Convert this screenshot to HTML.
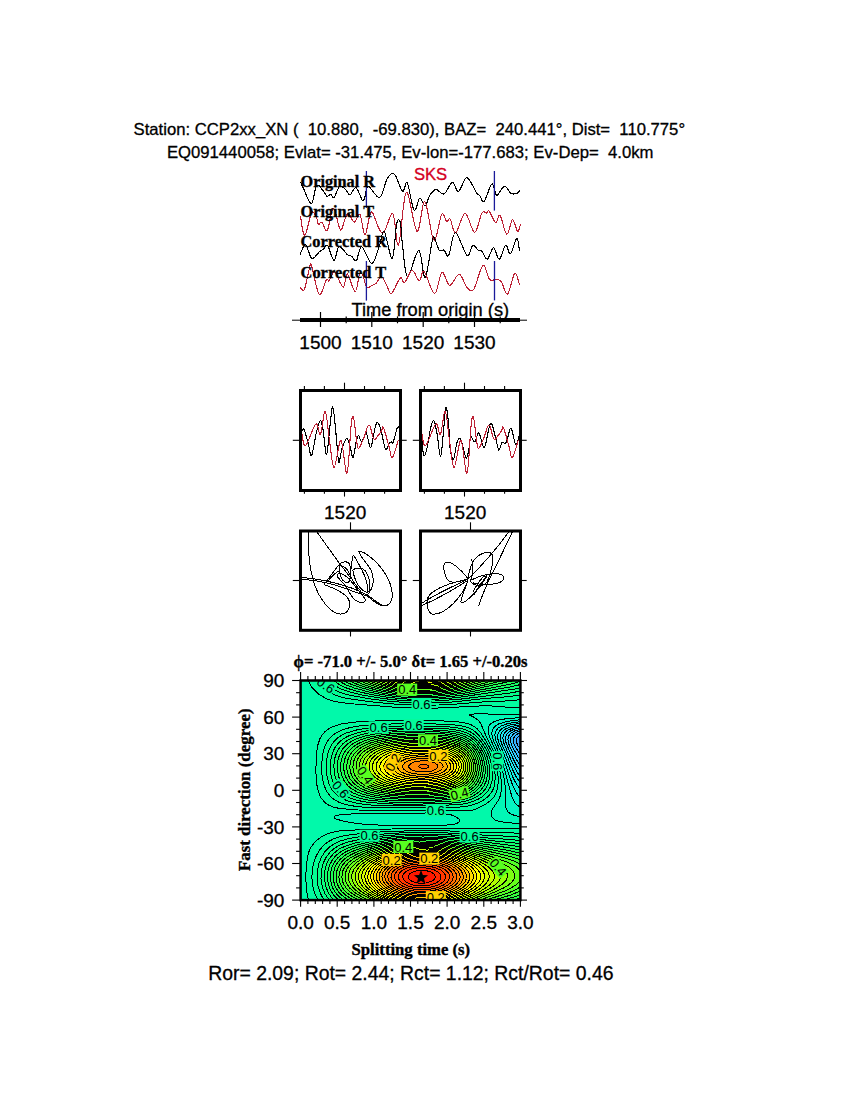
<!DOCTYPE html>
<html><head><meta charset="utf-8"><title>SKS splitting</title>
<style>html,body{margin:0;padding:0;background:#fff;}svg{display:block;}</style></head>
<body><svg width="850" height="1100" viewBox="0 0 850 1100">
<rect width="850" height="1100" fill="#fff"/>
<text x="133.6" y="134.8" style="font-family:&quot;Liberation Sans&quot;,sans-serif;font-size:16.68px;white-space:pre" text-anchor="start" fill="#000"  stroke="#000" stroke-width="0.3">Station: CCP2xx_XN (  10.880,  -69.830), BAZ=  240.441°, Dist=  110.775°</text>
<text x="166.9" y="157.8" style="font-family:&quot;Liberation Sans&quot;,sans-serif;font-size:16.7px;white-space:pre" text-anchor="start" fill="#000"  stroke="#000" stroke-width="0.3">EQ091440058; Evlat= -31.475, Ev-lon=-177.683; Ev-Dep=  4.0km</text>
<g fill="none" stroke-width="1.1" stroke-linejoin="round" shape-rendering="crispEdges">
<path d="M300.5 182C300.9 182.9 301.3 183.9 303.1 187.5C304.9 191.1 309 203.8 311.3 203.5C313.6 203.2 314.7 187.6 316.7 185.5C318.7 183.4 321.5 189.1 323.2 190.9C324.9 192.7 325.8 195.8 327 196.4C328.2 197 329.5 194.1 330.7 194.3C331.9 194.5 332.6 198.7 334.1 197.4C335.6 196.1 337.7 187.8 339.6 186.5C341.5 185.2 344 188.1 345.7 189.5C347.4 190.9 348.1 195.3 349.8 195C351.5 194.7 353.9 186.7 356 187.6C358.1 188.5 360.9 198.9 362.4 200.3C363.9 201.7 364.2 198.3 365.2 196C366.2 193.7 365.9 185.9 368.3 186.2C370.7 186.4 376.4 198.8 379.6 197.5C382.8 196.2 384.9 182.3 387.4 178.4C389.9 174.5 392 172 394.5 174.2C397 176.3 400.4 189.9 402.5 191.3C404.6 192.7 405.4 179.7 407.3 182.8C409.2 186 411.9 207.6 414 210.2C416.1 212.8 418 198.9 419.8 198.2C421.6 197.5 423.4 206.5 425 206C426.6 205.5 428.3 197.8 429.7 195.3C431.1 192.8 432 192 433.2 191.1C434.4 190.2 435 189.2 436.8 189.7C438.6 190.2 441.6 195.1 444.2 193.9C446.8 192.7 449.9 182.7 452.3 182.3C454.7 181.9 456.1 192.2 458.3 191.5C460.6 190.8 463.7 179.6 465.8 178.1C467.9 176.6 469.1 179.9 470.9 182.5C472.7 185.1 475.3 191.2 476.8 193.4C478.3 195.6 478.5 194.2 479.7 195.6C480.9 196.9 482.2 203.4 484.1 201.5C486.1 199.6 489.6 186.2 491.4 184.3C493.1 182.4 493.6 188 494.6 189.8C495.6 191.6 495.6 195.9 497.2 195.3C498.8 194.7 502.2 186.5 504.5 186.2C506.8 185.9 509 192.2 511.1 193.4C513.2 194.6 515.5 193.9 516.9 193.4C518.3 192.9 519.3 191 519.8 190.5" stroke="#000"/>
<path d="M300.4 216.1C301.1 219.3 302.9 235.8 304.8 235.2C306.7 234.6 309.7 215.6 311.6 212.7C313.5 209.8 315.3 215.6 316.4 217.5C317.5 219.4 317.5 223.5 318.4 224.3C319.3 225.1 320.4 221.3 321.9 222.3C323.4 223.3 325.4 232.8 327.3 230.4C329.2 228 331.2 208.1 333.4 208C335.6 207.9 338.3 228.1 340.3 229.8C342.3 231.6 343.8 221.2 345.2 218.5C346.6 215.8 347 212.9 348.5 213.5C350 214.1 352.3 222 354.2 222.2C356.1 222.3 358.1 212.3 359.9 214.4C361.7 216.5 363.2 234.4 364.8 234.9C366.4 235.4 368.1 220.8 369.4 217.2C370.7 213.5 370.4 210.3 372.6 213C374.8 215.7 379.1 233.4 382.5 233.5C385.9 233.6 390 211.8 392.7 213.7C395.4 215.6 396.2 248.6 398.5 245C400.8 241.4 403.2 194.7 406.3 192.4C409.4 190.1 413.9 229.8 417 231.3C420.1 232.9 422 200.2 424.8 201.7C427.6 203.1 431 237.9 433.8 240C436.6 242.1 439.6 217.5 441.7 214.4C443.8 211.3 445.2 220.7 446.6 221.5C448 222.3 448.7 217.4 450.2 219.3C451.7 221.2 453.3 233.7 455.8 232.7C458.3 231.7 462 213.1 465.1 213.1C468.2 213.1 471.8 232.5 474.6 232.5C477.4 232.5 479.9 216.3 481.9 213.1C483.8 209.9 485.1 213.4 486.3 213.1C487.5 212.8 487.6 209.7 489.2 211.3C490.8 212.9 493.9 221.9 495.7 222.6C497.5 223.3 498.3 213.4 500.1 215.3C501.9 217.2 504.6 233.6 506.7 234.3C508.8 235 510.7 220.2 512.5 219.7C514.3 219.2 516.3 230.7 517.6 231.4C518.9 232.1 520 225.3 520.5 224.1" stroke="#bc2034"/>
<path d="M300.1 254.5C301 252.8 303.6 243.9 305.5 244.5C307.4 245.1 309.5 257.1 311.8 258.3C314.1 259.6 317.3 253.5 319.2 252C321.1 250.5 322 250.3 323.4 249.2C324.8 248.1 325.8 243.7 327.6 245.6C329.4 247.5 332.2 260.3 334 260.5C335.8 260.7 336.9 248.7 338.5 247C340.1 245.3 342.4 249.3 343.9 250.6C345.4 251.9 346.1 253.9 347.4 254.8C348.7 255.7 350.1 255.2 351.6 256.2C353.1 257.2 354.7 262.2 356.4 260.6C358.1 259 359 246.3 361.6 246.8C364.2 247.3 368.9 263.5 371.8 263.5C374.7 263.5 377 252.1 379.1 246.8C381.2 241.5 382 229.6 384.2 231.5C386.4 233.4 390.1 259.9 392.2 258.5C394.3 257.1 395.4 229.1 396.8 223.1C398.2 217.1 399.5 219.6 400.4 222.6C401.3 225.6 400.9 231.9 402.1 240.9C403.3 249.9 404.6 274.7 407.4 276.3C410.2 277.9 415.7 250.1 418.7 250.3C421.7 250.5 422.9 279.1 425.2 277.5C427.4 275.9 430.6 247.4 432.2 240.9C433.8 234.4 433.4 236.9 434.6 238.5C435.8 240.1 437.8 248.4 439.3 250.3C440.9 252.2 442.3 249.2 443.9 250.1C445.5 250.9 446.8 258.3 448.7 255.4C450.6 252.5 452.3 232.7 455.4 232.7C458.4 232.7 464.1 253.3 467 255.4C469.9 257.5 470.9 246.1 472.8 245.3C474.7 244.5 477.2 249.7 478.6 250.6C480.1 251.5 480.1 249.2 481.5 250.6C482.9 252 485.3 259.7 487.3 259.2C489.3 258.7 491.5 247.7 493.5 247.7C495.5 247.7 497.3 259.6 499.3 259.2C501.3 258.8 503.8 246.2 505.6 245.3C507.5 244.4 508.5 255 510.4 253.9C512.2 252.8 515.2 239 516.7 238.5C518.2 238 519.1 248.9 519.6 251" stroke="#000"/>
<path d="M300.1 287.3C300.8 287.6 302.9 292.5 304.4 289.4C305.9 286.3 308.1 272.9 309.3 268.9C310.5 264.9 309.8 261.2 311.4 265.4C313 269.6 316.7 291.8 319.2 294.3C321.7 296.8 324.6 282.4 326.2 280.2C327.8 278 328.2 281.6 329 281C329.8 280.4 330.2 278.2 331.2 276.7C332.2 275.2 333 270.2 335 272C337 273.8 341.1 287 343.2 287.3C345.3 287.6 345.4 273.1 347.4 273.9C349.4 274.7 353.1 291.8 355.1 291.9C357.1 292 358.2 277.2 359.5 274.5C360.8 271.8 361.9 273.7 363.1 275.9C364.3 278.1 365.2 285.9 366.7 287.5C368.1 289.1 370.2 286.1 371.8 285.4C373.4 284.7 374.6 284.7 376.2 283.2C377.8 281.7 379.6 276.4 381.3 276.6C383 276.8 384.7 281.8 386.4 284.6C388.1 287.4 389.2 294.5 391.5 293.4C393.8 292.3 398 279.9 400.2 278.1C402.4 276.3 402.5 283.8 404.5 282.5C406.5 281.2 409.7 270.6 412.2 270.4C414.7 270.1 417.3 280.8 419.3 281C421.3 281.2 421.4 269.5 424 271.6C426.6 273.7 431.6 293.3 434.6 293.4C437.6 293.5 439.4 273.6 441.9 272.3C444.4 271 446.7 285 449.6 285.3C452.5 285.6 456.4 273.8 459.3 274.2C462.2 274.6 464.6 285.2 467 287.7C469.4 290.2 471.2 292.9 473.8 289.2C476.4 285.5 480.3 267.2 482.9 265.5C485.5 263.8 487.3 276.6 489.2 279C491.1 281.4 492.1 279.7 494 280C495.9 280.3 498.6 278.7 500.8 281C503.1 283.3 505.2 295.3 507.5 294C509.8 292.7 512.8 274.6 514.8 273.2C516.8 271.8 518.8 283.3 519.6 285.3" stroke="#bc2034"/>
</g>
<g stroke="#1a1a9a" stroke-width="1.3">
<line x1="366.4" y1="171" x2="366.4" y2="208"/><line x1="494.4" y1="171" x2="494.4" y2="210.6"/>
<line x1="366.4" y1="261" x2="366.4" y2="300.6"/><line x1="494.5" y1="261" x2="494.5" y2="300.4"/>
</g>
<g fill="none" stroke-width="1.1" stroke-linejoin="round" shape-rendering="crispEdges">
<path d="M301.7 431.6C302.1 431.2 303 427.6 304.1 429.5C305.2 431.4 306.9 438.9 308.2 443.2C309.4 447.5 310.2 457.2 311.6 455.4C313 453.6 314.9 438.1 316.4 432.3C317.9 426.5 319.3 420.5 320.4 420.3C321.5 420.1 322.2 425.1 323.2 430.9C324.2 436.6 325.5 455.7 326.6 454.8C327.7 453.9 329 433.6 330 425.5C331 417.4 331.8 406.1 332.7 406.4C333.6 406.7 334.7 421.4 335.4 427.5C336.1 433.6 336.2 437.4 336.8 443.2C337.4 449 338 461.6 338.9 462.3C339.8 463 340.9 451.3 342.3 447.3C343.7 443.3 345.6 438.1 347 438.4C348.4 438.7 349.7 446.1 350.7 449.3C351.7 452.5 352.2 458.8 353.1 457.5C354 456.2 355.3 445.4 356.2 441.8C357.1 438.2 357.7 435.7 358.6 435.7C359.5 435.7 360.4 442.1 361.6 441.8C362.8 441.5 364.8 434.7 365.7 433.6C366.6 432.5 366.2 432.7 367.1 435C368 437.3 369.4 448.7 370.8 447.3C372.2 445.9 374.1 430.9 375.3 426.8C376.5 422.7 377 421.9 378 422.7C379 423.5 380.1 427.2 381.4 431.6C382.6 436 384.2 447.2 385.5 449.3C386.8 451.4 387.9 445.1 388.9 443.9C389.9 442.6 390.9 441.9 391.6 441.8C392.3 441.7 392.1 445.5 393 443.2C393.9 440.9 396.1 430.8 397.1 428.2C398.1 425.6 398.8 427.6 399.1 427.5" stroke="#000"/>
<path d="M301.7 432.3C302.3 434.6 303.2 447.3 305.5 445.9C307.8 444.5 313.2 426 315.7 424.1C318.2 422.2 318.8 436.5 320.4 434.3C322 432.1 323.7 410.3 325.2 411.1C326.7 411.9 327.8 429.7 329.3 439.1C330.8 448.5 332.2 467.5 334.1 467.7C336 467.9 338.8 439.5 340.9 440.4C343 441.3 345.3 475.7 347 473.2C348.7 470.7 350 434.8 351.1 425.5C352.2 416.2 352.5 414.4 353.5 417.3C354.5 420.2 355.9 438.1 356.9 443.2C357.8 448.3 357.9 449 359.2 447.9C360.4 446.8 362.8 440.2 364.4 436.4C366 432.5 367.5 424.4 369.1 424.8C370.7 425.2 372.4 437.3 373.9 439.1C375.4 440.9 376.7 436.9 378 435.5C379.3 434.1 380.6 432.3 381.5 431C382.4 429.7 382.2 425 383.4 427.5C384.6 430 387.4 440.9 388.9 445.9C390.4 450.9 390.7 458.5 392.3 457.5C393.9 456.5 397.4 442.8 398.4 439.8" stroke="#bc2034"/>
<path d="M421.7 433.6C421.9 436.8 422.6 449.1 423.1 452.7C423.6 456.3 424.1 456.5 424.8 455.4C425.5 454.3 426.5 450.7 427.5 445.9C428.5 441.1 429.8 431 430.9 426.8C432 422.6 433 419.6 434 420.7C435 421.8 435.9 427.6 437 433.6C438.1 439.6 439.5 456.7 440.5 456.8C441.5 456.9 442.3 442.5 443.2 434.3C444.1 426.1 445 409.4 445.9 407.7C446.8 406 447.9 417.5 448.6 424.1C449.3 430.7 449.2 441.4 450 447.3C450.8 453.2 452.3 460.2 453.4 459.5C454.5 458.8 455.7 446.7 456.8 443.2C457.9 439.7 459.1 437.4 460.2 438.4C461.3 439.4 462.6 446 463.6 449.3C464.6 452.6 465.5 458.4 466.4 458.2C467.3 458 468.4 451.5 469.1 447.9C469.8 444.3 469.8 437.4 470.7 436.4C471.6 435.4 473.4 442.4 474.8 441.8C476.2 441.2 477.3 432 478.9 432.9C480.5 433.8 482.5 448.9 484.4 447.3C486.3 445.7 488.7 425.2 490.5 423.4C492.3 421.6 493.9 432 495.3 436.4C496.7 440.8 497.6 449 498.7 450C499.8 451 500.9 443.8 502.1 442.5C503.4 441.2 504.7 444.9 506.2 442.5C507.7 440.1 509.3 427.9 510.9 428.2C512.5 428.5 514.3 443.1 515.7 444.5C517.1 445.9 518.5 437.8 519.1 436.4" stroke="#000"/>
<path d="M421.7 432.3C422.3 434.6 423.2 447.3 425.5 445.9C427.8 444.5 433.2 426 435.7 424.1C438.2 422.2 438.8 436.5 440.4 434.3C442 432.1 443.7 410.3 445.2 411.1C446.7 411.9 447.8 429.7 449.3 439.1C450.8 448.5 452.2 467.5 454.1 467.7C456 467.9 458.8 439.5 460.9 440.4C463 441.3 465.3 475.7 467 473.2C468.7 470.7 470 434.8 471.1 425.5C472.2 416.2 472.5 414.4 473.5 417.3C474.5 420.2 475.9 438.1 476.9 443.2C477.8 448.3 477.9 449 479.2 447.9C480.4 446.8 482.8 440.2 484.4 436.4C486 432.5 487.5 424.4 489.1 424.8C490.7 425.2 492.4 437.3 493.9 439.1C495.4 440.9 496.7 436.9 498 435.5C499.3 434.1 500.6 432.3 501.5 431C502.4 429.7 502.2 425 503.4 427.5C504.6 430 507.4 440.9 508.9 445.9C510.4 450.9 510.7 458.5 512.3 457.5C513.9 456.5 517.4 442.8 518.4 439.8" stroke="#bc2034"/>
</g>
<text x="300.5" y="187.1" style="font-family:&quot;Liberation Serif&quot;,serif;font-weight:bold;font-size:16.3px;white-space:pre" text-anchor="start" fill="#000" textLength="74.6" lengthAdjust="spacingAndGlyphs" stroke="#000" stroke-width="0.35">Original R</text>
<text x="300.5" y="217.25" style="font-family:&quot;Liberation Serif&quot;,serif;font-weight:bold;font-size:16.3px;white-space:pre" text-anchor="start" fill="#000" textLength="73.5" lengthAdjust="spacingAndGlyphs" stroke="#000" stroke-width="0.35">Original T</text>
<text x="300.5" y="247.39999999999998" style="font-family:&quot;Liberation Serif&quot;,serif;font-weight:bold;font-size:16.3px;white-space:pre" text-anchor="start" fill="#000" textLength="86.4" lengthAdjust="spacingAndGlyphs" stroke="#000" stroke-width="0.35">Corrected R</text>
<text x="300.5" y="277.54999999999995" style="font-family:&quot;Liberation Serif&quot;,serif;font-weight:bold;font-size:16.3px;white-space:pre" text-anchor="start" fill="#000" textLength="85.8" lengthAdjust="spacingAndGlyphs" stroke="#000" stroke-width="0.35">Corrected T</text>
<text x="413.9" y="179.8" style="font-family:&quot;Liberation Sans&quot;,sans-serif;font-size:16.6px;white-space:pre" text-anchor="start" fill="#d4001e" stroke="#d4001e" stroke-width="0.35">SKS</text>
<text x="351.4" y="316.4" style="font-family:&quot;Liberation Sans&quot;,sans-serif;font-size:18.3px;white-space:pre" text-anchor="start" fill="#000"  stroke="#000" stroke-width="0.3">Time from origin (s)</text>
<line x1="292" y1="320.2" x2="527" y2="320.2" stroke="#000" stroke-width="1"/>
<rect x="300" y="318" width="220" height="4" fill="#000"/>
<line x1="320.5" y1="312" x2="320.5" y2="327" stroke="#000" stroke-width="1.2"/>
<text x="320.5" y="348.5" style="font-family:&quot;Liberation Sans&quot;,sans-serif;font-size:19px;white-space:pre" text-anchor="middle" fill="#000"  stroke="#000" stroke-width="0.3">1500</text>
<line x1="346.2" y1="316.4" x2="346.2" y2="323.3" stroke="#000" stroke-width="1.2"/>
<line x1="371.8" y1="312" x2="371.8" y2="327" stroke="#000" stroke-width="1.2"/>
<text x="371.8" y="348.5" style="font-family:&quot;Liberation Sans&quot;,sans-serif;font-size:19px;white-space:pre" text-anchor="middle" fill="#000"  stroke="#000" stroke-width="0.3">1510</text>
<line x1="397.5" y1="316.4" x2="397.5" y2="323.3" stroke="#000" stroke-width="1.2"/>
<line x1="423.2" y1="312" x2="423.2" y2="327" stroke="#000" stroke-width="1.2"/>
<text x="423.2" y="348.5" style="font-family:&quot;Liberation Sans&quot;,sans-serif;font-size:19px;white-space:pre" text-anchor="middle" fill="#000"  stroke="#000" stroke-width="0.3">1520</text>
<line x1="448.8" y1="316.4" x2="448.8" y2="323.3" stroke="#000" stroke-width="1.2"/>
<line x1="474.5" y1="312" x2="474.5" y2="327" stroke="#000" stroke-width="1.2"/>
<text x="474.5" y="348.5" style="font-family:&quot;Liberation Sans&quot;,sans-serif;font-size:19px;white-space:pre" text-anchor="middle" fill="#000"  stroke="#000" stroke-width="0.3">1530</text>
<line x1="500.2" y1="316.4" x2="500.2" y2="323.3" stroke="#000" stroke-width="1.2"/>
<rect x="300.5" y="390.5" width="100" height="100" fill="none" stroke="#000" stroke-width="3"/>
<line x1="304.4" y1="386" x2="304.4" y2="390" stroke="#000" stroke-width="1.1"/>
<line x1="304.4" y1="491" x2="304.4" y2="493.8" stroke="#000" stroke-width="1.1"/>
<line x1="324.4" y1="386" x2="324.4" y2="390" stroke="#000" stroke-width="1.1"/>
<line x1="324.4" y1="491" x2="324.4" y2="493.8" stroke="#000" stroke-width="1.1"/>
<line x1="344.5" y1="382.7" x2="344.5" y2="390" stroke="#000" stroke-width="1.1"/>
<line x1="344.5" y1="491" x2="344.5" y2="496.6" stroke="#000" stroke-width="1.1"/>
<line x1="364.5" y1="386" x2="364.5" y2="390" stroke="#000" stroke-width="1.1"/>
<line x1="364.5" y1="491" x2="364.5" y2="493.8" stroke="#000" stroke-width="1.1"/>
<line x1="384.6" y1="386" x2="384.6" y2="390" stroke="#000" stroke-width="1.1"/>
<line x1="384.6" y1="491" x2="384.6" y2="493.8" stroke="#000" stroke-width="1.1"/>
<line x1="292.8" y1="440.3" x2="300.5" y2="440.3" stroke="#000" stroke-width="1.1"/>
<line x1="400.5" y1="440.3" x2="406.7" y2="440.3" stroke="#000" stroke-width="1.1"/>
<text x="345.2" y="518.8" style="font-family:&quot;Liberation Sans&quot;,sans-serif;font-size:19px;white-space:pre" text-anchor="middle" fill="#000"  stroke="#000" stroke-width="0.3">1520</text>
<rect x="420.5" y="390.5" width="100" height="100" fill="none" stroke="#000" stroke-width="3"/>
<line x1="424.4" y1="386" x2="424.4" y2="390" stroke="#000" stroke-width="1.1"/>
<line x1="424.4" y1="491" x2="424.4" y2="493.8" stroke="#000" stroke-width="1.1"/>
<line x1="444.4" y1="386" x2="444.4" y2="390" stroke="#000" stroke-width="1.1"/>
<line x1="444.4" y1="491" x2="444.4" y2="493.8" stroke="#000" stroke-width="1.1"/>
<line x1="464.5" y1="382.7" x2="464.5" y2="390" stroke="#000" stroke-width="1.1"/>
<line x1="464.5" y1="491" x2="464.5" y2="496.6" stroke="#000" stroke-width="1.1"/>
<line x1="484.5" y1="386" x2="484.5" y2="390" stroke="#000" stroke-width="1.1"/>
<line x1="484.5" y1="491" x2="484.5" y2="493.8" stroke="#000" stroke-width="1.1"/>
<line x1="504.6" y1="386" x2="504.6" y2="390" stroke="#000" stroke-width="1.1"/>
<line x1="504.6" y1="491" x2="504.6" y2="493.8" stroke="#000" stroke-width="1.1"/>
<line x1="412.8" y1="440.3" x2="420.5" y2="440.3" stroke="#000" stroke-width="1.1"/>
<line x1="520.5" y1="440.3" x2="526.7" y2="440.3" stroke="#000" stroke-width="1.1"/>
<text x="465.2" y="518.8" style="font-family:&quot;Liberation Sans&quot;,sans-serif;font-size:19px;white-space:pre" text-anchor="middle" fill="#000"  stroke="#000" stroke-width="0.3">1520</text>
<rect x="300.5" y="531" width="100" height="99.3" fill="none" stroke="#000" stroke-width="3"/>
<line x1="350.5" y1="522.3" x2="350.5" y2="530" stroke="#000" stroke-width="1.1"/>
<line x1="350.5" y1="631" x2="350.5" y2="636.5" stroke="#000" stroke-width="1.1"/>
<line x1="292.8" y1="580.5" x2="300.5" y2="580.5" stroke="#000" stroke-width="1.1"/>
<line x1="400.5" y1="580.5" x2="406.7" y2="580.5" stroke="#000" stroke-width="1.1"/>
<rect x="420.5" y="531" width="100" height="99.3" fill="none" stroke="#000" stroke-width="3"/>
<line x1="470.5" y1="522.3" x2="470.5" y2="530" stroke="#000" stroke-width="1.1"/>
<line x1="470.5" y1="631" x2="470.5" y2="636.5" stroke="#000" stroke-width="1.1"/>
<line x1="412.8" y1="580.5" x2="420.5" y2="580.5" stroke="#000" stroke-width="1.1"/>
<line x1="520.5" y1="580.5" x2="526.7" y2="580.5" stroke="#000" stroke-width="1.1"/>
<g fill="none" stroke="#000" stroke-width="1" shape-rendering="crispEdges">
<path d="M308.4 531.8C307.4 548.0 309.6 569.6 314.4 584.0C319.2 598.4 330.0 612.8 339.6 614.0C348.0 614.6 351.0 606.8 349.2 600.8C346.8 593.6 336.0 588.8 324.0 584.6"/>
<path d="M301.8 577.4C318.0 578.6 336.0 582.8 350.4 587.6C360.0 591.2 367.2 594.8 372.0 598.4C376.8 602.0 381.6 605.0 384.0 606.2"/>
<path d="M301.8 579.2C318.0 580.4 336.0 584.6 348.0 589.4C357.6 593.0 364.8 595.4 368.4 596.0"/>
<path d="M316.8 531.8C324.0 542.0 333.6 555.2 339.6 563.6C344.4 569.6 348.0 574.4 351.6 579.2"/>
<path d="M358.8 551.0C364.8 551.6 378.0 561.2 386.4 575.6C392.4 586.4 394.8 599.6 388.8 604.4C385.2 606.8 381.6 606.2 376.8 603.2C372.0 600.2 368.4 597.2 366.6 594.8"/>
<path d="M358.8 551.0C358.8 555.2 367.2 563.6 370.8 569.6C374.4 576.8 373.8 585.2 370.8 590.0C369.0 593.0 367.2 594.8 366.6 594.8"/>
<path d="M339.6 564.2C342.0 561.2 348.0 560.6 349.8 564.8C351.6 569.6 350.4 578.0 349.2 581.6C346.8 584.0 343.2 581.6 341.4 578.0C339.6 574.4 339.0 568.4 339.6 564.2"/>
<path d="M324.0 584.6C328.8 578.0 334.8 569.6 339.6 564.2"/>
<path d="M353.4 554.6C351.6 561.2 350.4 569.6 351.0 579.2"/>
<path d="M353.4 554.6C356.4 560.0 362.4 569.6 365.4 578.0C367.2 584.0 368.4 588.8 367.8 592.4"/>
<path d="M352.8 569.6C356.4 567.8 362.4 567.2 365.4 570.8C369.0 575.6 370.8 584.0 369.6 590.0C368.4 593.6 364.8 592.4 361.2 588.8C357.6 585.2 354.0 578.0 352.8 569.6"/>
<path d="M337.8 574.4C338.4 572.6 343.2 573.2 348.0 578.0C352.8 582.8 360.0 592.4 364.8 598.4C367.2 602.0 362.4 603.2 358.8 602.0C354.0 600.8 350.4 594.8 348.0 590.0C345.6 585.2 340.8 580.4 337.8 577.4C337.2 576.2 337.4 575.0 337.8 574.4"/>
<path d="M340.8 566.0C344.4 566.0 348.0 569.6 350.4 575.6C352.8 581.6 356.4 586.4 361.2 591.2"/>
<path d="M327.6 581.6C331.2 576.8 336.0 572.0 339.6 570.8"/>
<path d="M508.8 531.8C501.6 542.0 487.2 560.0 468.0 579.2"/>
<path d="M512.4 531.8C506.4 544.4 494.4 569.6 487.2 584.0C483.6 592.4 480.0 600.8 478.8 605.6"/>
<path d="M468.0 579.2C456.0 581.6 438.0 586.4 429.6 594.8C424.8 600.8 427.2 611.6 432.0 614.0C439.2 615.2 446.4 610.4 453.6 603.2C459.6 597.2 465.6 587.6 468.0 580.4"/>
<path d="M421.8 603.2C434.4 594.8 450.0 587.6 468.0 579.2"/>
<path d="M421.8 605.6C435.6 599.6 451.2 591.2 466.8 581.0"/>
<path d="M468.0 578.6C460.8 569.6 452.4 561.8 446.4 562.2C442.2 562.6 443.4 572.0 446.4 578.0C449.4 584.0 456.0 582.8 468.0 579.2"/>
<path d="M468.0 578.0C470.4 566.0 472.8 558.8 480.0 554.6C486.0 551.6 492.0 551.0 492.6 556.4C493.2 563.6 490.8 573.2 487.2 581.6C484.8 586.4 476.4 587.6 470.4 581.6"/>
<path d="M470.4 580.4C480.0 575.6 489.6 573.2 498.0 573.8C504.0 574.4 505.2 579.2 501.6 581.6C494.4 585.2 482.4 585.2 472.8 582.8"/>
<path d="M468.0 580.4C465.6 587.6 460.8 598.4 460.8 602.0C461.4 604.4 465.6 602.0 472.8 594.8C477.6 590.0 482.4 584.0 487.2 575.6"/>
<path d="M474.0 594.8C477.6 587.6 483.6 580.4 487.2 574.4"/>
<path d="M472.8 592.4C476.4 585.2 480.0 579.2 484.8 575.6"/>
<path d="M471.6 558.8C474.0 566.0 472.8 575.6 470.4 580.4"/>
</g>
<clipPath id="cp"><rect x="300.6" y="680.5" width="219.8" height="219.6"/></clipPath>
<g clip-path="url(#cp)"><rect x="300.6" y="680.5" width="219.8" height="219.6" fill="#3e96ff"/>
<path id="c90" d="M520.6 900L520.6 680.5L300.6 680.5L300.6 900L520.6 900Z" fill="#3e96ff" fill-rule="evenodd"/>
<path id="c88" d="M520.6 900L520.6 743.4L520.2 741L520.6 739.3L520.6 680.5L300.6 680.5L300.6 900L520.6 900Z" fill="#3ba3ff" fill-rule="evenodd"/>
<path id="c86" d="M520.6 900L520.6 749.6L517.4 745L516.3 741L516.6 739L517.4 737.5L518.9 736L520.6 734.9L520.6 680.5L300.6 680.5L300.6 900L520.6 900Z" fill="#38b0ff" fill-rule="evenodd"/>
<path id="c84" d="M520.6 900L520.6 755L514.8 746L513.6 743L513.2 740.5L513.6 738L515.1 735.7L517.4 734L520.6 732.6L520.6 680.5L300.6 680.5L300.6 900L520.6 900Z" fill="#35bdff" fill-rule="evenodd"/>
<path id="c82" d="M520.6 900L520.6 760.6L518.1 756.9L512.5 747L510.9 743L510.5 740L511.1 737L513.1 734.2L516.1 732.3L520.6 730.8L520.6 680.5L300.6 680.5L300.6 900L520.6 900Z" fill="#32caff" fill-rule="evenodd"/>
<path id="c80" d="M520.6 900L520.6 766.1L516.6 760L510 747L508.4 743L507.9 739.5L508.6 736L511.1 733L515.1 730.7L520.6 729.2L520.6 680.5L300.6 680.5L300.6 900L520.6 900Z" fill="#2cd4fb" fill-rule="evenodd"/>
<path id="c78" d="M520.6 900L520.6 771.5L517.1 766.6L513.6 759.8L506.6 744.5L505.7 741.5L505.4 739L505.5 737L506.3 735L509.1 731.8L513.6 729.4L520.6 727.7L520.6 680.5L300.6 680.5L300.6 900L520.6 900Z" fill="#24dcf3" fill-rule="evenodd"/>
<path id="c76" d="M520.6 900L520.6 777.1L517.1 772.3L513.1 764.6L504.3 744.5L503.2 741L502.9 738L503.1 736L503.9 734L505.4 732L507.2 730.5L513.1 727.8L520.6 726.2L520.6 680.5L300.6 680.5L300.6 900L520.6 900Z" fill="#1ce4ec" fill-rule="evenodd"/>
<path id="c74" d="M520.6 900L520.6 782.9L516.8 778L513.1 770.8L506.1 753.5L501.8 744L500.7 740.5L500.3 737.5L500.6 735L501.6 732.8L503.1 730.9L505.6 729L512.1 726.3L520.6 724.8L520.6 680.5L300.6 680.5L300.6 900L520.6 900Z" fill="#14ece4" fill-rule="evenodd"/>
<path id="c72" d="M520.6 900L520.6 789.4L516.6 784.5L513 777.5L504 754L498.9 742.5L498 739.5L497.7 736.5L498 734L499.1 731.5L500.8 729.5L503.6 727.6L506.6 726.2L511.1 724.8L520.6 723.2L520.6 680.5L300.6 680.5L300.6 900L520.6 900Z" fill="#0ef1da" fill-rule="evenodd"/>
<path id="c70" d="M520.6 900L520.6 797.3L518.6 795.5L516.6 793L512.7 785.5L502.8 756.5L496 741L495.2 738L494.9 735L495.3 732.5L496.4 730L498.2 728L501.1 726.1L505.1 724.4L509.1 723.3L520.6 721.6L520.6 680.5L300.6 680.5L300.6 900L520.6 900Z" fill="#0af3ce" fill-rule="evenodd"/>
<path id="c68" d="M520.6 900L520.6 807.1L518.1 805.8L516 804L514.1 801.5L512.6 798.4L510.6 792.2L502.6 762.5L499.3 753.5L493.2 740L492.2 736.5L491.8 733.5L492.2 730.5L493.4 728L495.6 725.8L498.6 724L506.6 721.5L513.1 720.5L520.6 719.8L520.6 680.5L300.6 680.5L300.6 900L520.6 900Z" fill="#06f5c2" fill-rule="evenodd"/>
<path id="c66" d="M520.6 900L520.6 816.6L515.1 815.6L511 814L508.1 811.9L506.3 809L505.6 805.5L505.9 795.5L505.5 788.5L504.5 780.5L502.8 772L500.4 763L497.7 755L489.5 737L488.4 733L488.1 730L488.6 727L490 724.5L492.1 722.7L495.1 721.2L498.6 720.1L505.6 718.8L520.6 717.5L520.6 680.5L300.6 680.5L300.6 900L520.6 900Z" fill="#02f7b6" fill-rule="evenodd"/>
<path id="c64" d="M520.6 900L520.6 823.7L507.6 822.7L499.2 821.5L494.6 819.7L493.1 818.5L492.1 816.9L491.1 813.5L491.5 810.5L498.6 800L500.2 796L501.1 792L501.6 787L501.4 781.5L499.5 768.5L497.3 760.5L494.6 753L486.1 736L480.6 723.3L479.1 721.1L477.6 719.8L474.1 717.3L469.4 715L470.1 714.6L476.6 713.5L501.6 714.6L520.6 714.2L520.6 680.5L300.6 680.5L300.6 900L520.6 900ZM436.1 825.5L390.6 825.5L365.7 824.5L354.1 823.1L342.6 820.9L336 819L334.2 818L333.9 817L335.3 816L339.4 815L352.6 813.9L433.6 812.9L443.6 813.5L451.6 815L457.1 817.5L458.8 819L459.7 820.5L459.6 821.5L458.8 822.5L454.8 824L447.3 825L436.1 825.5Z" fill="#01f9aa" fill-rule="evenodd"/>
<path id="c62" d="M438.2 708L483.6 705.8L491.6 706L510.6 707.4L516.6 707.5L520.6 707.1L520.6 680.5L308.5 680.5L310.1 684.4L312 687.5L318.4 694L326.1 698.6L335.1 701.6L348.1 703.5L392.1 707L414.6 708L438.2 708ZM468 811L473.1 810.1L478.6 807.9L486.1 803.8L491.1 800L494.1 796.6L496.1 792.9L497.5 788.5L498.2 783L498 775.5L496.8 767.5L494.7 759.5L491.9 752L487.1 742.9L480.6 732.6L476.6 728.2L472.1 725.2L466.6 723.3L460.1 722.1L444.1 721L391.6 720.7L370.6 721.1L355.6 722L342.1 723.8L332.6 726.7L328.1 729.2L325.1 731.5L321.8 735.5L320 738.5L317.5 746L316.2 756L315.9 772L316.8 784.5L318.3 791.5L320.8 797.5L324.6 802.3L329.3 805.5L334.1 807.3L339.8 808.5L358.1 810L385.6 810.5L436.1 809.9L468 811ZM520.6 900L520.6 829L500.1 828.4L410.1 828.5L351.1 830.1L339.6 830.9L333.1 832.1L327.6 833.8L322.6 836.1L318.1 839.2L314.1 843.1L310.9 847.5L309 851.5L307.5 857L306.1 867.5L305.9 880L306.7 891.5L308.5 900L520.6 900Z" fill="#03fb9f" fill-rule="evenodd"/>
<path id="c60" d="M439.3 705L457.1 704L484.1 701.8L510.6 700.8L520.6 699.6L520.6 680.5L317.8 680.5L320.2 684L322.8 687L325.6 689.7L328.6 691.8L335.6 695.3L340.6 697L346.6 698.3L370.6 701.8L393.6 704L415.1 705.1L439.3 705ZM398.6 808L453.1 807.4L464.1 806.8L471.1 805.4L477.6 803.2L483.1 800.4L487.7 797L491.8 792L493.3 789L494.4 785.5L495.3 778L494.6 769L492.6 760L489.5 751.5L484.6 742.9L478.6 734.9L474.6 731.2L470.6 728.7L465.1 726.7L458.6 725.3L442.6 724.1L406.1 723.6L377.1 724.4L364.1 725.4L355.6 726.5L348.1 728.1L341.6 730.2L335.6 733.2L331.9 736L327.5 741L324.6 747L322.7 754.5L321.7 764L322 774.5L323.5 783.5L326.1 790.5L330 796L334 799.5L338.6 802.1L344.1 804.2L350.6 805.6L359.1 806.8L370.1 807.5L398.6 808ZM520.6 900L520.6 833.4L509.1 832.7L483.6 832.2L447.1 830.9L415.1 830.6L381.1 831.9L359.1 833.8L346.6 835.3L339.1 836.9L333.1 839.1L327.8 842L323.5 845.5L319.6 850L316.4 855.5L313.9 862L312.5 868.5L311.9 877L312.5 885L314.4 892.5L317.8 900L520.6 900Z" fill="#05fc94" fill-rule="evenodd"/>
<path id="c58" d="M430.4 703L443.6 702.6L457.1 701.6L484.1 698.6L510.1 696.5L520.6 694.9L520.6 680.5L324 680.5L328.1 685.2L334.1 689.6L341.1 692.8L350.1 695.3L370.6 699L391.6 701.5L413.1 702.9L430.4 703ZM437.7 805.5L458.6 804.6L465.6 803.6L472.1 801.8L478.1 799.3L483.3 796L487.3 792L490 787.5L492 781L492.5 773.5L491.7 765.5L489.5 757L486.2 749.5L481.4 742L476.1 736L471.1 732.3L466.1 730L460.1 728.3L452.6 727.2L444.1 726.5L406.6 725.9L391.1 726.3L376.1 727.1L364.6 728.5L357.6 729.7L346.6 732.9L341.6 735.3L337.6 738L333.9 741.5L331.1 745.5L328.3 752L326.7 759.5L326.3 768.5L327.2 777.5L329 784L332.1 789.9L336.1 794.4L341.1 798L346.6 800.5L353.6 802.6L361.6 804L371.1 805L396.1 806L437.7 805.5ZM520.6 900L520.6 837.2L510.1 836.3L484.6 835.2L451.6 833.1L422.6 832.4L404.6 832.7L388.1 833.6L372.1 835.1L356.1 837.3L347.1 839L340.1 841.1L334.1 843.9L329.1 847.4L325.1 851.5L321.5 857L319.1 863L317.5 870L317 878L318 886L320.4 893.5L324 900L520.6 900Z" fill="#07fe8a" fill-rule="evenodd"/>
<path id="c56" d="M435 701L459.1 699.3L509.1 693.1L519.6 691.3L520.6 691.1L520.6 680.5L329.2 680.5L334.6 685.4L341.6 689.3L349.6 692L364.1 695.4L383.6 698.6L399.1 700.2L415.6 701.1L435 701ZM423.3 804L450.6 803.1L458.6 802.4L465.1 801.2L471.6 799.2L477.1 796.6L481.6 793.3L485.1 789.5L488.1 784L489.7 777.5L489.9 770L488.7 762L486.4 754.5L482.7 747.5L478.1 741.3L472.6 736.2L468.1 733.5L463.6 731.7L457.6 730.2L449.1 729L435.6 728.2L415.1 727.9L398.6 728.1L383.6 728.8L371.6 730.1L364.1 731.3L356.6 733L351.1 734.9L346.6 736.9L341.7 740L338.4 743L335.3 747L332.6 752.5L330.8 759.5L330.2 767.5L330.9 775L332.5 781L335.2 786.5L338.8 791L343.6 794.8L348.6 797.5L354.6 799.6L362.1 801.4L370.6 802.6L392.6 804L423.3 804ZM520.6 900L520.6 840.7L519.6 840.5L510.1 839.5L486.1 837.9L455.6 835.2L431.6 834.1L414.6 834.1L398.6 834.7L384.1 835.9L370.1 837.7L357.1 839.9L347.6 842.2L340.6 844.7L335.1 847.8L330.1 852L325.9 857.5L323.1 863.5L321.4 870.5L321 878.5L322.2 886.5L325.1 894L329.2 900L520.6 900Z" fill="#0bff7e" fill-rule="evenodd"/>
<path id="c54" d="M424 699.5L442.1 698.9L457.1 697.6L515.6 688.9L520.6 687.7L520.6 680.5L333.9 680.5L339.6 684.7L346.6 688.1L355.6 690.9L369.1 694.1L383.1 696.6L393.6 697.9L408.1 699.1L424 699.5ZM413.9 802.5L443.6 801.8L459.6 800.2L466.1 798.7L471.6 796.6L476.3 794L480.1 790.9L483.6 786.5L486.2 781L487.5 774.5L487.5 767.5L486.1 760L483.5 753L480.1 747L475.6 741.6L471.1 737.8L466.1 735L459.6 732.8L452.6 731.4L443.1 730.5L429.1 729.8L413.6 729.6L398.1 729.9L376.6 731.6L368.6 732.9L360.1 734.9L353.8 737L347.8 740L343.1 743.6L339.6 747.4L336.7 752.5L334.7 758.5L333.9 765L334.2 772L335.5 778L337.9 783.5L341.1 788L345.1 791.6L349.6 794.4L355.1 796.8L361.6 798.7L369.1 800.2L388.1 802L413.9 802.5ZM520.6 900L520.6 843.9L516.1 843.1L457.6 837.2L435.1 835.8L419.6 835.6L404.6 836L390.6 837L377.6 838.6L364.6 840.9L353.1 843.5L345.1 846.2L339.1 849.1L333.6 853.4L329.4 858.5L326.4 864.5L324.7 871.5L324.5 879.5L326.1 887.5L329.1 894L331.6 897.5L333.9 900L520.6 900Z" fill="#11ff70" fill-rule="evenodd"/>
<path id="c52" d="M439.5 697.5L451.1 696.6L464.1 694.8L511.6 686.7L520.6 684.5L520.6 680.5L338.7 680.5L342.1 682.8L346.1 684.9L354.6 688.1L369.1 692L383.1 694.8L398.1 696.8L412.6 697.8L427.6 698L439.5 697.5ZM435.6 800.5L454.6 799.1L461.6 797.8L467.1 796.1L472.1 793.8L476.6 790.7L480.1 787L482.6 783L484.7 777L485.4 770.5L484.8 763.5L482.9 756.5L480.1 750.5L476.1 745L471.6 740.7L466.1 737.2L460.1 734.9L453.6 733.4L445.1 732.4L435.6 731.7L421.1 731.3L405.6 731.4L391.6 732L379.1 733.3L364.6 736.1L358.1 738.2L353.9 740L349.6 742.5L345.8 745.5L342.7 749L340.3 753L338.3 758.5L337.3 764.5L337.5 771L338.8 777L341 782L344.1 786.2L348.3 790L353.3 793L359.1 795.4L365.6 797.3L373.6 798.8L382.6 799.9L405.6 800.9L435.6 800.5ZM520.6 900L520.6 847L512.1 845.5L459.6 839L438.1 837.3L423.6 837L409.1 837.2L395.1 838.1L382.6 839.6L370.1 841.8L357.6 844.8L348.6 847.7L342.1 850.8L336.6 854.8L332.5 859.5L329.4 865.5L327.8 872L327.4 876L327.6 880L329.4 887.5L331.1 891.2L333.2 894.5L335.6 897.3L338.7 900L520.6 900Z" fill="#17ff64" fill-rule="evenodd"/>
<path id="c50" d="M428.6 696.5L445.6 695.6L465.6 692.9L510.6 684.1L520.6 681.4L520.6 680.5L343.6 680.5L349.6 683.7L357.6 686.7L370.1 690.3L383.1 693.2L393.6 694.8L405.6 695.9L416.1 696.4L428.6 696.5ZM435.5 799L453.6 797.5L460.1 796.3L465.6 794.6L470.6 792.2L474.6 789.4L478.1 785.7L480.6 781.6L482.5 776L483.3 770L482.8 763.5L481.1 757L478.5 751.5L474.6 746.1L470.1 742L465.1 738.9L459.6 736.7L453.1 735.1L445.1 734L435.6 733.3L421.6 732.9L407.6 732.9L393.6 733.6L383.6 734.6L368.6 737.3L362.1 739.2L356.8 741.5L352.5 744L348.6 747.1L345.6 750.5L343.2 754.5L341.4 759.5L340.5 765.5L340.8 771L342.1 776.5L344.3 781L347.6 785.4L351.6 788.8L356.6 791.7L362.3 794L369.1 795.9L376.6 797.3L385.6 798.4L408.1 799.5L435.5 799ZM520.6 900L520.6 850.1L509.6 847.9L467.1 841.6L454.1 840L442.1 838.9L429.6 838.4L417.1 838.3L404.6 838.8L393.1 839.8L382.1 841.3L371.6 843.3L361.6 845.9L353.1 848.6L346.6 851.4L341.6 854.5L337.6 858L334.2 862.5L331.8 867.5L330.6 872.5L330.4 876.5L330.6 880.5L331.5 884.5L333 888.5L335 892L337.5 895L340.1 897.5L343.6 900L520.6 900Z" fill="#1dff56" fill-rule="evenodd"/>
<path id="c48" d="M432.6 695L449.1 693.7L464.1 691.5L513.8 680.5L348.7 680.5L355.6 683.7L364.6 686.8L376.1 690L386.1 692.1L397.6 693.8L408.1 694.7L420.6 695.2L432.6 695ZM421.8 798L443.1 797.1L457.1 795.2L462.6 793.7L467.1 791.8L471.1 789.4L474.4 786.5L477.6 782.4L479.8 777.5L481.1 772L481.2 766.5L480.2 760.5L478.2 755L475.3 750L471.6 745.7L467.1 742.1L462.6 739.7L457.1 737.8L449.6 736.2L438.6 735.1L427.1 734.5L413.1 734.4L398.1 734.9L386.6 735.9L378.6 737.1L370.6 738.8L364.1 740.9L358.4 743.5L354.1 746.2L350.1 749.7L347.1 753.8L345 758.5L343.8 763.5L343.7 768.5L344.5 773.5L346.2 778L348.7 782L352.1 785.6L356.6 788.8L361.6 791.3L367.1 793.2L373.6 794.9L381.1 796.2L399.1 797.8L421.8 798ZM513.8 900L520.6 897.8L520.6 853.3L509 850.5L462.6 842.6L440.1 840.1L428.6 839.6L416.6 839.6L405.1 840.1L394.1 841.1L383.6 842.6L374.1 844.5L364.8 847L356.1 849.9L349.6 852.7L344.6 855.6L340.5 859L337.1 863.2L334.7 868L333.4 873L333.2 877L333.6 881L334.7 885L336.3 888.5L338.6 892L341.1 894.7L344.6 897.5L348.7 900L513.8 900Z" fill="#27ff4a" fill-rule="evenodd"/>
<path id="c46" d="M436.4 693.5L450.1 692.2L464.1 689.9L503.3 680.5L353.9 680.5L362.3 684L371.6 687.1L382.6 689.9L391.6 691.6L401.6 692.8L413.6 693.7L423.6 693.9L436.4 693.5ZM426.6 796.5L445.6 795.3L458.1 793.2L463.1 791.6L467.3 789.5L470.8 787L473.8 784L476.5 780L478.4 775L479.2 770L479 764.5L477.8 759L475.6 753.9L472.6 749.4L468.7 745.5L464.1 742.4L458.6 740L452.1 738.3L444.6 737.2L434.6 736.3L420.1 735.8L406.6 736L394.1 736.7L385.1 737.8L377.1 739.2L370.1 741.1L364.1 743.3L358.9 746L355.1 748.8L352 752L349.3 756L347.6 760.5L346.8 765L347 770L348.1 774.7L350.1 778.8L352.9 782.5L356.6 785.7L361.1 788.5L366.1 790.7L372.1 792.6L379.1 794.1L386.6 795.2L404.6 796.5L426.6 796.5ZM503.3 900L514.6 896.8L520.6 894.5L520.6 856.6L515.1 854.8L507.9 853L461.6 843.9L440.1 841.4L418.1 840.8L407.1 841.3L396.6 842.2L386.6 843.6L377.6 845.4L368.6 847.8L360.1 850.6L353.1 853.6L347.6 856.7L343.4 860L339.9 864L337.6 868.5L336.3 873L336 877L336.5 881L337.7 885L339.6 888.6L342.2 892L345.6 895L349.2 897.5L353.9 900L503.3 900Z" fill="#35ff3e" fill-rule="evenodd"/>
<path id="c44" d="M430.9 692.5L444.6 691.5L459.1 689.3L472.6 686.3L493.8 680.5L359.1 680.5L367.7 684L375.6 686.6L391.6 690.2L401.1 691.5L412.1 692.4L430.9 692.5ZM430.2 795L446.6 793.7L458.1 791.5L462.6 789.8L466.6 787.7L470.1 785L472.8 782L475.2 778L476.8 773L477.4 768L476.9 763L475.5 758L473.3 753.5L470.3 749.5L466.4 746L462.1 743.4L456.6 741.1L450.1 739.5L442.1 738.4L429.6 737.5L416.1 737.2L405.1 737.5L393.6 738.3L385.1 739.4L377.6 741L371.1 742.8L365.7 745L361.1 747.5L357.2 750.5L354.1 753.9L351.9 757.5L350.5 761.5L349.8 766L350.1 770.5L351.5 775L353.4 778.5L356.3 782L360 785L364.6 787.7L369.6 789.8L375.6 791.5L390.1 794.1L408.6 795.2L430.2 795ZM493.8 900L510.6 895.1L520.6 890.9L520.6 860.2L514.6 857.8L506.6 855.5L474.3 848L461.1 845.3L440.6 842.7L419.6 842L399.1 843.2L389.6 844.4L381.1 846.1L372.6 848.3L364.1 851.2L356.4 854.5L350.6 857.7L346.2 861L343 864.5L340.7 868.5L339.3 873L338.9 877L339.4 881L340.8 885L342.9 888.5L345.6 891.6L349.1 894.5L354 897.5L359.1 900L493.8 900Z" fill="#43ff32" fill-rule="evenodd"/>
<path id="c42" d="M435.9 691L448.6 689.7L459.6 687.8L472.1 684.7L486.3 680.5L363.9 680.5L371.1 683.4L379.1 686L387.1 687.9L397.1 689.7L415.6 691.3L426.6 691.4L435.9 691ZM432.8 793.5L448.1 792L458.6 789.5L462.6 787.8L466.4 785.5L469.3 783L471.7 780L473.8 776L475.1 771.5L475.5 767L474.8 762L473.4 757.5L471.1 753.4L467.8 749.5L464.1 746.5L459.1 743.8L453.1 741.8L445.6 740.3L438.1 739.5L427.6 738.8L415.1 738.6L405.1 738.9L393.6 739.8L385.6 741L378.8 742.5L372.3 744.5L367.6 746.5L363.2 749L359.4 752L356.6 755.2L354.5 759L353.2 763L352.9 767.5L353.5 771.5L355 775.5L357.3 779L360.2 782L364.1 784.8L368.6 787.1L374.1 789.2L380.1 790.8L394.6 793L412.6 794L432.8 793.5ZM486.3 900L509.6 892.4L516 889.5L520.6 886.6L520.6 864.6L514.6 861.3L505.1 858L476.6 850.3L461.6 846.9L449.1 844.9L437.1 843.7L424.6 843.2L411.6 843.4L398.1 844.5L385.6 846.6L374.3 849.5L363.5 853.5L354.6 858L348.5 862.5L344.5 867.5L343 870.5L342.2 873.5L341.9 877.5L342.6 881.5L344.1 885L346.5 888.5L349.4 891.5L353.5 894.5L363.9 900L486.3 900Z" fill="#51ff26" fill-rule="evenodd"/>
<path id="c40" d="M432.2 690L444.6 688.9L456.6 687L467.1 684.5L480.1 680.5L368.4 680.5L376.1 683.4L383.1 685.5L398.1 688.6L415.1 690.1L432.2 690ZM424.9 792.5L441.1 791.5L453 789.5L457.6 788.1L461.3 786.5L464.6 784.5L467.6 782L470.4 778.5L472.1 775L473.3 771L473.6 766.5L473 762L471.6 758L469.6 754.4L466.8 751L463.1 748L458.1 745.2L452.1 743.2L445.1 741.8L435.6 740.7L423.6 740.1L413.1 740L402.1 740.5L393.1 741.4L385.6 742.7L378.6 744.4L372.7 746.5L368.1 748.7L363.6 751.7L360.3 755L358 758.5L356.6 762L356 766L356.3 770L357.4 773.5L359.3 777L361.9 780L365.1 782.6L369.1 785L373.7 787L379.1 788.7L391.6 791.2L407.1 792.5L424.9 792.5ZM480.1 900L504.1 891.3L510.6 888.3L515.8 885L518.6 882.4L520.6 879.4L520.6 871.9L519.5 870L517.7 868L515.1 866L507.3 862L489.5 856L469.1 850.1L456.6 847.3L444.1 845.5L431.6 844.5L418.1 844.3L404.1 845.1L391.6 846.8L380.1 849.4L369.3 853L359.9 857.5L352.5 862.5L347.9 867.5L346.3 870.5L345.4 873.5L345.1 877.5L345.7 881L347.2 884.5L349.6 887.9L352.8 891L356.9 894L362.1 897L368.4 900L480.1 900Z" fill="#65ff1b" fill-rule="evenodd"/>
<path id="c38" d="M428.1 689L440.6 688.1L451.6 686.6L463.6 683.9L474.6 680.5L372.8 680.5L384.6 684.5L398.1 687.3L413.1 688.8L428.1 689ZM428.8 791L442.6 789.8L453.1 787.8L457.6 786.3L461.1 784.6L464.1 782.6L466.6 780.2L469 777L470.6 773.5L471.6 769.5L471.7 765.5L470.9 761.5L469.6 758L467.4 754.5L464.6 751.4L460.6 748.4L456.1 746.2L450.1 744.3L443.1 743L434.4 742L422.6 741.4L412.6 741.4L401.6 742L393.2 743L386.1 744.3L379.6 746L374.4 748L369.5 750.5L365.6 753.4L362.7 756.5L360.6 760L359.4 763.5L359.1 767L359.6 770.5L360.9 774L362.8 777L365.8 780L369.2 782.5L373.1 784.5L378.1 786.5L383.3 788L396.1 790.2L411.6 791.2L428.8 791ZM474.6 900L496.1 891.5L503.5 888L509.2 884.5L512.8 881L514.6 877.5L514.6 874L513.1 871L511.3 869L508.7 867L501.1 863L484.2 856.5L468.1 851.4L456.1 848.6L444.1 846.7L431.6 845.7L418.6 845.5L405.1 846.2L393.1 847.8L382.1 850.3L372.1 853.7L362.3 858.5L355.2 863.5L350.8 868.5L349.5 871L348.6 874L348.3 877.5L349 881L350.7 884.5L353.4 888L356.7 891L361.6 894.4L372.8 900L474.6 900Z" fill="#7eff12" fill-rule="evenodd"/>
<path id="c36" d="M434.5 687.5L443.6 686.6L452.1 685.1L460.1 683.3L469.4 680.5L377 680.5L390.1 684.5L404.1 686.9L419.6 687.9L434.5 687.5ZM431.2 789.5L444.1 788.2L453.6 786L460.6 782.8L463.1 781L465.6 778.5L467.6 775.5L469.1 772L469.7 768.5L469.7 765L469 761.5L467.5 758L465.5 755L462.6 752L458.6 749.3L453.6 747L448.6 745.6L441.6 744.2L431.1 743.2L421.6 742.8L412.1 742.8L401.6 743.5L393.6 744.5L387.1 745.8L381.2 747.5L376.1 749.5L371.6 751.9L368.2 754.5L365.5 757.5L363.5 761L362.6 764L362.3 767.5L363 771L364.3 774L366.5 777L369.2 779.5L372.9 782L377 784L387.1 787.1L399.6 789.1L414.6 789.9L431.2 789.5ZM469.4 900L479.1 896.4L488.9 892L496.5 888L502.6 884L506 880.5L507.4 877.5L507.3 874L505.6 871L500.9 867L491.6 862L478.4 856.5L465.6 852.3L454.6 849.7L443.1 847.8L431.1 846.8L418.6 846.6L406.1 847.3L394.6 848.8L384.1 851.2L374.4 854.5L365.4 859L358.6 863.9L354.1 869L352 874L351.7 877.5L352.5 881L354.2 884.5L356.6 887.5L360.6 891L364.9 894L370.6 897.2L377 900L469.4 900Z" fill="#97ff09" fill-rule="evenodd"/>
<path id="c34" d="M432 686.5L441.1 685.7L449.1 684.4L457.1 682.7L464.5 680.5L381.4 680.5L392.6 683.7L405.1 685.8L419.1 686.8L432 686.5ZM423.2 788.5L436.6 787.7L447.4 786L455.1 783.6L461.1 780.2L463.6 777.8L465.7 775L467 772L467.8 768.5L467.8 765L467.1 762L465.9 759L463.9 756L460.6 752.7L456.6 750.1L451.6 748.1L445.6 746.5L437.6 745.2L429.1 744.4L419.6 744.1L409.6 744.4L401.1 745L393.6 746.1L387.1 747.6L381.6 749.4L376.8 751.5L372.6 754.2L369.5 757L367.1 760.5L366 763.5L365.6 766.5L365.9 769.5L367 772.5L368.5 775L370.8 777.5L373.6 779.7L377.1 781.7L385.6 784.9L396.1 787.1L409.1 788.4L423.2 788.5ZM464.5 900L472.1 897.3L479.6 894L487.3 890L492.8 886.5L496.6 883.5L499.2 880.5L500.5 877.5L500.6 875L499.3 872L496.7 869L492.7 866L487.6 863L480.5 859.5L473.2 856.5L465.1 853.7L457.1 851.6L441.1 848.8L424.6 847.7L407.1 848.3L391.6 850.7L384.5 852.5L378.1 854.7L372.1 857.4L367.1 860.3L362.7 863.5L359.1 867L356.7 870.5L355.4 874L355.1 877.5L355.9 881L357.8 884.5L360.7 888L364.6 891.3L369.4 894.5L375.6 897.7L381.4 900L464.5 900Z" fill="#b0ff00" fill-rule="evenodd"/>
<path id="c32" d="M429.3 685.5L444.6 683.9L452.1 682.5L459.6 680.5L385.8 680.5L395.1 683L406.1 684.7L417.1 685.6L429.3 685.5ZM426.4 787L438.1 786L447.6 784.3L454.6 782L460.1 778.5L462.6 776L464.1 773.7L465.2 771L465.8 768L465.8 765L465.1 762L463.7 759L461.9 756.5L458.6 753.5L454.6 751.1L450.1 749.3L444.1 747.7L436.6 746.5L428.1 745.8L419.6 745.6L409.6 745.8L401.6 746.5L394.6 747.6L383.6 750.7L378.8 753L375 755.5L372 758.5L370.1 761.5L369.3 764L369 767L369.5 770L370.5 772.5L372.3 775L374.9 777.5L381.1 781.2L389.6 784.2L400.1 786.1L412.6 787.1L426.4 787ZM459.6 900L466.6 897.6L473.6 894.7L479.9 891.5L485.5 888L489.4 885L492.6 881.5L494.2 878.5L494.5 876L493.8 873L491.7 870L488.5 867L484.1 864L478.8 861L472.1 857.9L465.1 855.3L457.6 853.1L442.6 850.1L426.1 848.8L409.6 849.3L394.6 851.3L387.7 853L381.6 855L376.1 857.3L371.1 860L366.8 863L363 866.5L360.3 870L358.9 873.5L358.4 877L359.3 881L361.1 884.5L364.1 888L368.3 891.5L373 894.5L379.1 897.5L385.8 900L459.6 900Z" fill="#c4ff00" fill-rule="evenodd"/>
<path id="c30" d="M424.7 684.5L440.6 683.3L454.5 680.5L390.5 680.5L398.6 682.4L406.6 683.6L415.6 684.4L424.7 684.5ZM428 785.5L438.6 784.5L447.1 782.8L453.6 780.5L458.6 777.3L460.8 775L462.4 772.5L463.3 770L463.8 767.5L463.7 765L463.1 762.5L461.9 760L460.2 757.5L457.1 754.7L453.1 752.3L448.6 750.6L443.1 749.1L436.1 748L428.1 747.3L411.6 747.2L397.6 748.8L391.6 750.1L386 752L381.7 754L378 756.5L375 759.5L373.3 762.5L372.6 765L372.5 767.5L373 770L374.2 772.5L376.2 775L378.5 777L384.7 780.5L393.1 783.2L403.6 785L415.6 785.7L428 785.5ZM454.5 900L467.6 895.5L473.8 892.5L478.9 889.5L482.9 886.5L486.5 883L488.4 880L489.3 877L488.9 874L487.4 871L484.7 868L481 865L476.1 862L470.1 859L457.6 854.5L443.1 851.4L427.6 850L411.6 850.2L396.6 852.2L384.1 855.6L378.6 857.9L373.8 860.5L369.5 863.5L365.8 867L363.6 870L362.1 873.5L361.7 877.5L362.5 881L364.8 885L368 888.5L372.1 891.8L377.5 895L383.6 897.7L390.5 900L454.5 900Z" fill="#d7ff00" fill-rule="evenodd"/>
<path id="c28" d="M432.3 683L441.1 682L449 680.5L395.7 680.5L404.6 682.2L413.6 683.1L422.6 683.4L432.3 683ZM428.9 784L438.2 783L446.1 781.4L452.4 779L457 776L460.2 772L461.6 767.5L461 763L459.8 760.5L458.3 758.5L455.6 756L451.6 753.6L447.6 752L442.1 750.5L435.6 749.4L428.1 748.7L412.6 748.6L399.1 750.2L393.6 751.5L388.6 753.2L384.6 755.1L381.1 757.5L378.6 760L376.8 763L376.1 765.5L376.2 768L376.9 770.5L378.1 772.5L382.3 776.5L388.1 779.6L395.9 782L405.6 783.6L417.1 784.3L428.9 784ZM449 900L458.1 897.5L466.8 894L474.6 889.6L480.4 885L483.7 880.5L484.7 876.5L483.8 872.5L480.3 868L475.2 864L469 860.5L462 857.5L453.6 854.9L445.1 853L435.6 851.7L425.6 851L416.1 851.1L406.6 851.8L397.6 853.3L389.6 855.3L382.6 857.8L376.4 861L371.1 864.9L367.4 869L365.4 873L364.8 876.5L365.3 880L366.9 883.5L369.6 887L373.6 890.5L378.2 893.5L383.6 896.1L389.6 898.3L395.7 900L449 900Z" fill="#ebff00" fill-rule="evenodd"/>
<path id="c26" d="M430 682L442.7 680.5L401.9 680.5L415.6 682.1L430 682ZM429.1 782.5L437.6 781.5L444.7 780L450.2 778L454.6 775.3L457.6 772L459.1 768L458.9 764L456.8 760L454.3 757.5L451.1 755.4L447.1 753.7L442.1 752.2L436.1 751.1L429.1 750.3L414.6 750.1L401.6 751.5L391.6 754.3L387.1 756.5L384.3 758.5L381.9 761L380.5 763.5L379.9 765.5L380 768L380.6 770L381.8 772L385.5 775.5L391.2 778.5L399.1 780.8L408.1 782.3L418.6 782.8L429.1 782.5ZM442.7 900L452.1 897.8L460.6 894.9L468.6 891L474.9 886.5L478.9 882L479.9 880L480.6 877.5L480.5 875L479.9 873L477.3 869L473.4 865.5L467.6 861.9L460.6 858.7L453.1 856.2L445.1 854.3L436.1 852.9L426.6 852.2L417.6 852.2L408.6 852.8L400.1 854L392.6 855.8L385.6 858.2L379.8 861L374.7 864.5L370.8 868.5L368.5 872.5L367.8 875.5L368 879L369.3 882.5L371.3 885.5L374.3 888.5L378.3 891.5L383.1 894.2L388.1 896.3L394.6 898.4L401.9 900L442.7 900Z" fill="#ffff00" fill-rule="evenodd"/>
<path id="c24" d="M426.6 681L433.8 680.5L410.7 680.5L419.1 681L426.6 681ZM428.7 781L436.6 780.1L443.1 778.7L448.1 776.9L452.2 774.5L455.1 771.5L456.6 768L456.5 764.5L454.7 761L452.6 758.9L449.6 756.8L445.6 755L441.1 753.7L429.1 751.9L415.6 751.6L404.1 752.9L394.6 755.5L390.6 757.4L387.7 759.5L385.7 761.5L384.3 764L383.9 766L384 768L385.7 771.5L389.6 775L394.8 777.5L401.7 779.5L410.1 780.8L419.1 781.3L428.7 781ZM433.8 900L443.8 898.5L453.3 896L462 892.5L468.7 888.5L473.8 884L476.4 879.5L476.9 877L476.7 875L475.9 872.5L474.7 870.5L471.5 867L466.6 863.5L460.8 860.5L453.6 857.8L446.1 855.8L437.6 854.3L429.1 853.5L420.1 853.3L411.1 853.7L403.1 854.8L395.6 856.4L388.6 858.6L382.6 861.4L377.8 864.5L374.2 868L371.6 872L370.8 875L370.7 878L371.5 881L372.8 883.5L375.2 886.5L378.1 889.1L382.1 891.8L386.4 894L396.6 897.5L408.1 899.7L410.7 900L433.8 900Z" fill="#ffee00" fill-rule="evenodd"/>
<path id="c22" d="M427.6 779.5L434.6 778.7L440.7 777.5L445.6 775.8L449.6 773.6L452.4 771L453.8 768L453.8 765L452.3 762L450.4 760L447.6 758.1L440.6 755.4L430.1 753.5L418.6 753.2L407.6 754.2L398.6 756.4L395 758L392.1 759.8L389.8 762L388.6 764L388.1 767.5L389.4 770.5L392.5 773.5L397.3 776L403.6 777.9L410.6 779.1L419.1 779.7L427.6 779.5ZM431.5 899L441.6 897.6L450.6 895.3L459.1 892L465.6 888.2L470.2 884L471.7 882L472.9 879.5L473.3 877L473.2 875L472.4 872.5L471.2 870.5L467.9 867L463.7 864L457.8 861L451.6 858.7L444.6 856.8L437.1 855.4L429.1 854.6L420.6 854.4L412.1 854.8L404.6 855.8L397.6 857.2L391.1 859.2L385.6 861.7L381 864.5L377.1 868L374.7 871.5L373.8 874L373.5 877L374 880L375.1 882.5L377.2 885.5L379.8 888L386.9 892.5L396.1 896L407.1 898.3L419.6 899.4L431.5 899Z" fill="#ffdc00" fill-rule="evenodd"/>
<path id="c20" d="M425.1 778L431.3 777.5L437.1 776.5L442.1 775.1L445.6 773.5L448.4 771.5L450.3 769L450.8 766L450 763.5L448.4 761.5L446.1 759.8L439.6 757L430.6 755.3L420.6 754.8L410.6 755.6L402.1 757.6L396.3 760.5L394.1 762.5L392.9 764.5L392.6 767.5L393.7 770L396.4 772.5L400.1 774.5L405.1 776.2L411.1 777.4L418.1 778L425.1 778ZM428.6 898L438.1 896.9L447.6 894.8L455.6 891.8L462.1 888.1L466.8 884L468.3 882L469.5 879.5L469.9 877L469.8 875L468.1 871L465.1 867.7L461.1 864.7L456 862L450.1 859.7L443.6 857.9L436.1 856.6L428.6 855.8L421.1 855.6L413.6 855.9L406.1 856.8L399.6 858.1L393.3 860L388.1 862.2L383.5 865L380.1 868L377.6 871.5L376.6 874L376.3 876.5L376.6 879.5L377.6 882L379.3 884.5L381.7 887L388.1 891.3L396.6 894.7L406.6 897L417.1 898.1L428.6 898Z" fill="#ffc600" fill-rule="evenodd"/>
<path id="c18" d="M428.8 776L437.6 774.4L441.4 773L444.1 771.5L446.2 769.5L447.2 767.5L447.2 765.5L446.2 763.5L444.8 762L442.6 760.5L436.6 758.2L428.6 756.9L420.1 756.6L412.1 757.4L405.1 759.1L400.1 761.8L398.4 763.5L397.5 765L397.4 767.5L398.8 770L401.3 772L405.6 773.9L410.6 775.3L416.1 776L422.6 776.3L428.8 776ZM431.5 896.5L440.6 895.1L448.2 893L455.3 890L460.8 886.5L464.7 882.5L466.5 878.5L466.6 876L466.2 874L463.9 870L460.8 867L457 864.5L451.8 862L446.1 860L439.8 858.5L433.1 857.5L426.1 856.9L419.1 856.8L412.1 857.3L405.6 858.2L399.6 859.5L394.1 861.3L389.4 863.5L385.5 866L382.2 869L380.2 872L379.3 874.5L379 877L379.4 879.5L380.5 882L382.3 884.5L384.8 887L391.3 891L399.3 894L409.1 896.1L420.1 897L431.5 896.5Z" fill="#ffb000" fill-rule="evenodd"/>
<path id="c16" d="M429.3 774L436.2 772.5L441.1 770L442.5 768.5L443.1 767L443 765.5L442.2 764L438.9 761.5L434.1 759.8L427.6 758.7L420.6 758.5L414.1 759.2L408.6 760.7L404.5 763L402.7 765.5L402.7 767.5L404 769.5L406.1 771L409.6 772.6L413.6 773.6L418.6 774.2L424.1 774.4L429.3 774ZM427.9 895.5L436.6 894.5L444.6 892.6L451.6 889.9L457.3 886.5L461 883L463.1 879L463.2 875L461.3 871L458.6 868.1L455.1 865.6L451 863.5L445.7 861.5L440.1 860L433.6 858.8L420.6 858.1L407.6 859.2L401.6 860.5L396.6 862.1L392.1 864L388.1 866.5L385.3 869L383.1 872L382.3 874L381.9 876.5L382.2 879L383.1 881.5L386.6 885.8L392.1 889.5L399.4 892.5L408.1 894.6L417.6 895.6L427.9 895.5Z" fill="#ff9a00" fill-rule="evenodd"/>
<path id="c14" d="M426.2 772L431.6 771.1L435.6 769.5L437.6 767.5L437.8 766L437.4 765L435.6 763.4L432.1 761.9L427.6 761L422.6 760.8L417.6 761.2L413.6 762.2L410.8 763.5L408.9 765.5L408.8 767L409.3 768L411 769.5L413 770.5L419.1 771.9L426.2 772ZM429.7 894L437.6 892.8L444.6 890.9L450.6 888.3L455.6 885L458.7 881.5L460 878L460.1 876L459.6 874L457.5 870.5L454.8 868L451.1 865.6L446.6 863.5L442.1 862L431.1 859.9L419.1 859.4L407.6 860.6L402.1 861.9L397.6 863.4L393.6 865.3L390.2 867.5L387.5 870L385.8 872.5L385.1 874.5L384.8 877L385.2 879.5L386.1 881.5L389.6 885.5L395 889L402.1 891.7L410.6 893.5L420.1 894.3L429.7 894Z" fill="#ff8400" fill-rule="evenodd"/>
<path id="c12" d="M427.1 768L428.7 767L428.8 766L427.4 765L425.6 764.6L423.1 764.4L420.6 764.8L419.1 765.5L418.5 766.5L419.2 767.5L421.6 768.3L424.1 768.5L427.1 768ZM430.2 892.5L437.1 891.3L443.4 889.5L448.9 887L453.1 884L455.6 881L456.8 877.5L456.3 874L454 870.5L451.6 868.4L448.1 866.2L439.6 863L429.6 861.2L418.6 860.8L408.4 862L399.6 864.5L395.6 866.4L392.6 868.4L390.4 870.5L388.7 873L388 875L387.8 877.5L389.3 881.5L392.6 885.1L398.1 888.4L405.1 890.9L413.1 892.4L421.6 893L430.2 892.5Z" fill="#ff6f00" fill-rule="evenodd"/>
<path id="c10" d="M429.8 891L436.1 889.9L442.1 888L446.6 885.8L450.4 883L452.6 880L453.3 877L452.7 874L450.7 871L448.4 869L445.1 867L437.6 864.2L428.6 862.6L418.6 862.3L409.1 863.5L401.1 865.9L395.1 869.4L393 871.5L391.7 873.5L391.1 875.5L391 877.5L392.3 881L395.5 884.5L400.6 887.5L406.6 889.6L414.1 891L422.1 891.5L429.8 891Z" fill="#ff5b00" fill-rule="evenodd"/>
<path id="c8" d="M428.3 889.5L434.2 888.5L439.2 887L443.5 885L446.9 882.5L448.8 880L449.7 877L449 874L447.2 871.5L444.8 869.5L442.2 868L435.6 865.6L427.1 864.1L418.6 863.9L410.6 864.9L403.6 867L398.3 870L396.3 872L395 874L394.4 877.5L395.5 880.5L398.2 883.5L402.6 886.1L408.1 888.1L414.6 889.4L421.6 889.9L428.3 889.5Z" fill="#ff4a00" fill-rule="evenodd"/>
<path id="c6" d="M424.2 888L429.6 887.4L434.6 886.3L438.6 884.8L442.1 882.7L444.4 880.5L445.5 878L445.5 875.5L444.2 873L440.7 870L434.9 867.5L428.1 866.1L420.6 865.7L413.6 866.3L407.1 868L402.1 870.6L400.4 872L398.9 874L398.2 876.5L398.9 879.5L400.8 882L403.6 884L407.6 885.8L412.6 887.2L418.6 887.9L424.2 888Z" fill="#ff3800" fill-rule="evenodd"/>
<path id="c4" d="M427.9 885.5L435.1 883.4L437.7 882L439.9 880L440.9 878L441 876L440.1 874L438.1 872L434.5 870L429.5 868.5L424.1 867.8L418.1 867.9L412.6 868.8L408.1 870.4L404.8 872.5L403 875L402.6 877.5L403.6 879.7L406 882L409.1 883.7L413.2 885L418.1 885.8L423.1 885.9L427.9 885.5Z" fill="#ff2800" fill-rule="evenodd"/>
<path id="c2" d="M425.7 883L431.2 881.5L433.1 880.4L434.6 879L435.3 877.5L435.2 876L433.4 873.5L430.7 872L427.5 871L423.6 870.5L419.3 870.5L415.6 871.1L412.1 872.3L409.6 873.9L408.5 875.5L408.3 877.5L409 879L410.6 880.5L412.6 881.6L418.6 883.1L425.7 883Z" fill="#ff1800" fill-rule="evenodd"/>
<g fill="none" stroke="#000" stroke-width="1.0" shape-rendering="crispEdges"><use href="#c90"/><use href="#c88"/><use href="#c86"/><use href="#c84"/><use href="#c82"/><use href="#c80"/><use href="#c78"/><use href="#c76"/><use href="#c74"/><use href="#c72"/><use href="#c70"/><use href="#c68"/><use href="#c66"/><use href="#c64"/><use href="#c62"/><use href="#c60"/><use href="#c58"/><use href="#c56"/><use href="#c54"/><use href="#c52"/><use href="#c50"/><use href="#c48"/><use href="#c46"/><use href="#c44"/><use href="#c42"/><use href="#c40"/><use href="#c38"/><use href="#c36"/><use href="#c34"/><use href="#c32"/><use href="#c30"/><use href="#c28"/><use href="#c26"/><use href="#c24"/><use href="#c22"/><use href="#c20"/><use href="#c18"/><use href="#c16"/><use href="#c14"/><use href="#c12"/><use href="#c10"/><use href="#c8"/><use href="#c6"/><use href="#c4"/><use href="#c2"/></g><g transform="translate(325.8 685.2) rotate(35)"><rect x="-10" y="-6" width="20" height="12" fill="#04fc9a"/><text x="0" y="4.6" text-anchor="middle" style="font-family:&quot;Liberation Sans&quot;,sans-serif;font-size:13px">0.6</text></g><g transform="translate(407.2 689.6) rotate(0)"><rect x="-10" y="-6" width="20" height="12" fill="#58ff20"/><text x="0" y="4.6" text-anchor="middle" style="font-family:&quot;Liberation Sans&quot;,sans-serif;font-size:13px">0.4</text></g><g transform="translate(421.5 703.9) rotate(0)"><rect x="-10" y="-6" width="20" height="12" fill="#04fc9a"/><text x="0" y="4.6" text-anchor="middle" style="font-family:&quot;Liberation Sans&quot;,sans-serif;font-size:13px">0.6</text></g><g transform="translate(378.6 727.3) rotate(0)"><rect x="-10" y="-6" width="20" height="12" fill="#04fc9a"/><text x="0" y="4.6" text-anchor="middle" style="font-family:&quot;Liberation Sans&quot;,sans-serif;font-size:13px">0.6</text></g><g transform="translate(413.7 725.2) rotate(0)"><rect x="-10" y="-6" width="20" height="12" fill="#04fc9a"/><text x="0" y="4.6" text-anchor="middle" style="font-family:&quot;Liberation Sans&quot;,sans-serif;font-size:13px">0.6</text></g><g transform="translate(428.0 740.3) rotate(0)"><rect x="-10" y="-6" width="20" height="12" fill="#58ff20"/><text x="0" y="4.6" text-anchor="middle" style="font-family:&quot;Liberation Sans&quot;,sans-serif;font-size:13px">0.4</text></g><g transform="translate(438.4 755.9) rotate(0)"><rect x="-10" y="-6" width="20" height="12" fill="#ffd100"/><text x="0" y="4.6" text-anchor="middle" style="font-family:&quot;Liberation Sans&quot;,sans-serif;font-size:13px">0.2</text></g><g transform="translate(393.0 762.4) rotate(-60)"><rect x="-10" y="-6" width="20" height="12" fill="#ffd100"/><text x="0" y="4.6" text-anchor="middle" style="font-family:&quot;Liberation Sans&quot;,sans-serif;font-size:13px">0.2</text></g><g transform="translate(365.3 775.3) rotate(55)"><rect x="-10" y="-6" width="20" height="12" fill="#58ff20"/><text x="0" y="4.6" text-anchor="middle" style="font-family:&quot;Liberation Sans&quot;,sans-serif;font-size:13px">0.4</text></g><g transform="translate(340.6 789.4) rotate(50)"><rect x="-10" y="-6" width="20" height="12" fill="#04fc9a"/><text x="0" y="4.6" text-anchor="middle" style="font-family:&quot;Liberation Sans&quot;,sans-serif;font-size:13px">0.6</text></g><g transform="translate(459.5 793.8) rotate(-15)"><rect x="-10" y="-6" width="20" height="12" fill="#58ff20"/><text x="0" y="4.6" text-anchor="middle" style="font-family:&quot;Liberation Sans&quot;,sans-serif;font-size:13px">0.4</text></g><g transform="translate(435.8 810.5) rotate(0)"><rect x="-10" y="-6" width="20" height="12" fill="#04fc9a"/><text x="0" y="4.6" text-anchor="middle" style="font-family:&quot;Liberation Sans&quot;,sans-serif;font-size:13px">0.6</text></g><g transform="translate(369.5 835.7) rotate(0)"><rect x="-10" y="-6" width="20" height="12" fill="#04fc9a"/><text x="0" y="4.6" text-anchor="middle" style="font-family:&quot;Liberation Sans&quot;,sans-serif;font-size:13px">0.6</text></g><g transform="translate(469.6 836.5) rotate(0)"><rect x="-10" y="-6" width="20" height="12" fill="#04fc9a"/><text x="0" y="4.6" text-anchor="middle" style="font-family:&quot;Liberation Sans&quot;,sans-serif;font-size:13px">0.6</text></g><g transform="translate(403.3 846.9) rotate(0)"><rect x="-10" y="-6" width="20" height="12" fill="#58ff20"/><text x="0" y="4.6" text-anchor="middle" style="font-family:&quot;Liberation Sans&quot;,sans-serif;font-size:13px">0.4</text></g><g transform="translate(391.6 859.9) rotate(0)"><rect x="-10" y="-6" width="20" height="12" fill="#ffd100"/><text x="0" y="4.6" text-anchor="middle" style="font-family:&quot;Liberation Sans&quot;,sans-serif;font-size:13px">0.2</text></g><g transform="translate(429.3 858.6) rotate(0)"><rect x="-10" y="-6" width="20" height="12" fill="#ffd100"/><text x="0" y="4.6" text-anchor="middle" style="font-family:&quot;Liberation Sans&quot;,sans-serif;font-size:13px">0.2</text></g><g transform="translate(498.2 867.2) rotate(50)"><rect x="-10" y="-6" width="20" height="12" fill="#58ff20"/><text x="0" y="4.6" text-anchor="middle" style="font-family:&quot;Liberation Sans&quot;,sans-serif;font-size:13px">0.4</text></g><g transform="translate(435.8 897.1) rotate(0)"><rect x="-10" y="-6" width="20" height="12" fill="#ffd100"/><text x="0" y="4.6" text-anchor="middle" style="font-family:&quot;Liberation Sans&quot;,sans-serif;font-size:13px">0.2</text></g><g transform="translate(497.4 761.2) rotate(90)"><rect x="-10" y="-6" width="20" height="12" fill="#04fc9a"/><text x="0" y="4.6" text-anchor="middle" style="font-family:&quot;Liberation Sans&quot;,sans-serif;font-size:13px">0.6</text></g></g>
<polygon points="421,870.1 422.9,875 428.1,875.3 424,878.6 425.4,883.7 421,880.8 416.6,883.7 418,878.6 413.9,875.3 419.1,875" fill="#000"/>
<rect x="300.6" y="680.5" width="219.8" height="219.6" fill="none" stroke="#000" stroke-width="2.5"/>
<line x1="300.6" y1="672" x2="300.6" y2="680.5" stroke="#000" stroke-width="1.1"/>
<line x1="300.6" y1="900.1" x2="300.6" y2="906.7" stroke="#000" stroke-width="1.1"/>
<text x="300.6" y="928.6" style="font-family:&quot;Liberation Sans&quot;,sans-serif;font-size:19px;white-space:pre" text-anchor="middle" fill="#000"  stroke="#000" stroke-width="0.3">0.0</text>
<line x1="307.9" y1="676" x2="307.9" y2="680.5" stroke="#000" stroke-width="1.1"/>
<line x1="307.9" y1="900.1" x2="307.9" y2="903.9" stroke="#000" stroke-width="1.1"/>
<line x1="315.3" y1="676" x2="315.3" y2="680.5" stroke="#000" stroke-width="1.1"/>
<line x1="315.3" y1="900.1" x2="315.3" y2="903.9" stroke="#000" stroke-width="1.1"/>
<line x1="322.6" y1="676" x2="322.6" y2="680.5" stroke="#000" stroke-width="1.1"/>
<line x1="322.6" y1="900.1" x2="322.6" y2="903.9" stroke="#000" stroke-width="1.1"/>
<line x1="329.9" y1="676" x2="329.9" y2="680.5" stroke="#000" stroke-width="1.1"/>
<line x1="329.9" y1="900.1" x2="329.9" y2="903.9" stroke="#000" stroke-width="1.1"/>
<line x1="337.2" y1="672" x2="337.2" y2="680.5" stroke="#000" stroke-width="1.1"/>
<line x1="337.2" y1="900.1" x2="337.2" y2="906.7" stroke="#000" stroke-width="1.1"/>
<text x="337.2" y="928.6" style="font-family:&quot;Liberation Sans&quot;,sans-serif;font-size:19px;white-space:pre" text-anchor="middle" fill="#000"  stroke="#000" stroke-width="0.3">0.5</text>
<line x1="344.6" y1="676" x2="344.6" y2="680.5" stroke="#000" stroke-width="1.1"/>
<line x1="344.6" y1="900.1" x2="344.6" y2="903.9" stroke="#000" stroke-width="1.1"/>
<line x1="351.9" y1="676" x2="351.9" y2="680.5" stroke="#000" stroke-width="1.1"/>
<line x1="351.9" y1="900.1" x2="351.9" y2="903.9" stroke="#000" stroke-width="1.1"/>
<line x1="359.2" y1="676" x2="359.2" y2="680.5" stroke="#000" stroke-width="1.1"/>
<line x1="359.2" y1="900.1" x2="359.2" y2="903.9" stroke="#000" stroke-width="1.1"/>
<line x1="366.5" y1="676" x2="366.5" y2="680.5" stroke="#000" stroke-width="1.1"/>
<line x1="366.5" y1="900.1" x2="366.5" y2="903.9" stroke="#000" stroke-width="1.1"/>
<line x1="373.9" y1="672" x2="373.9" y2="680.5" stroke="#000" stroke-width="1.1"/>
<line x1="373.9" y1="900.1" x2="373.9" y2="906.7" stroke="#000" stroke-width="1.1"/>
<text x="373.9" y="928.6" style="font-family:&quot;Liberation Sans&quot;,sans-serif;font-size:19px;white-space:pre" text-anchor="middle" fill="#000"  stroke="#000" stroke-width="0.3">1.0</text>
<line x1="381.2" y1="676" x2="381.2" y2="680.5" stroke="#000" stroke-width="1.1"/>
<line x1="381.2" y1="900.1" x2="381.2" y2="903.9" stroke="#000" stroke-width="1.1"/>
<line x1="388.5" y1="676" x2="388.5" y2="680.5" stroke="#000" stroke-width="1.1"/>
<line x1="388.5" y1="900.1" x2="388.5" y2="903.9" stroke="#000" stroke-width="1.1"/>
<line x1="395.8" y1="676" x2="395.8" y2="680.5" stroke="#000" stroke-width="1.1"/>
<line x1="395.8" y1="900.1" x2="395.8" y2="903.9" stroke="#000" stroke-width="1.1"/>
<line x1="403.2" y1="676" x2="403.2" y2="680.5" stroke="#000" stroke-width="1.1"/>
<line x1="403.2" y1="900.1" x2="403.2" y2="903.9" stroke="#000" stroke-width="1.1"/>
<line x1="410.5" y1="672" x2="410.5" y2="680.5" stroke="#000" stroke-width="1.1"/>
<line x1="410.5" y1="900.1" x2="410.5" y2="906.7" stroke="#000" stroke-width="1.1"/>
<text x="410.5" y="928.6" style="font-family:&quot;Liberation Sans&quot;,sans-serif;font-size:19px;white-space:pre" text-anchor="middle" fill="#000"  stroke="#000" stroke-width="0.3">1.5</text>
<line x1="417.8" y1="676" x2="417.8" y2="680.5" stroke="#000" stroke-width="1.1"/>
<line x1="417.8" y1="900.1" x2="417.8" y2="903.9" stroke="#000" stroke-width="1.1"/>
<line x1="425.2" y1="676" x2="425.2" y2="680.5" stroke="#000" stroke-width="1.1"/>
<line x1="425.2" y1="900.1" x2="425.2" y2="903.9" stroke="#000" stroke-width="1.1"/>
<line x1="432.5" y1="676" x2="432.5" y2="680.5" stroke="#000" stroke-width="1.1"/>
<line x1="432.5" y1="900.1" x2="432.5" y2="903.9" stroke="#000" stroke-width="1.1"/>
<line x1="439.8" y1="676" x2="439.8" y2="680.5" stroke="#000" stroke-width="1.1"/>
<line x1="439.8" y1="900.1" x2="439.8" y2="903.9" stroke="#000" stroke-width="1.1"/>
<line x1="447.1" y1="672" x2="447.1" y2="680.5" stroke="#000" stroke-width="1.1"/>
<line x1="447.1" y1="900.1" x2="447.1" y2="906.7" stroke="#000" stroke-width="1.1"/>
<text x="447.1" y="928.6" style="font-family:&quot;Liberation Sans&quot;,sans-serif;font-size:19px;white-space:pre" text-anchor="middle" fill="#000"  stroke="#000" stroke-width="0.3">2.0</text>
<line x1="454.5" y1="676" x2="454.5" y2="680.5" stroke="#000" stroke-width="1.1"/>
<line x1="454.5" y1="900.1" x2="454.5" y2="903.9" stroke="#000" stroke-width="1.1"/>
<line x1="461.8" y1="676" x2="461.8" y2="680.5" stroke="#000" stroke-width="1.1"/>
<line x1="461.8" y1="900.1" x2="461.8" y2="903.9" stroke="#000" stroke-width="1.1"/>
<line x1="469.1" y1="676" x2="469.1" y2="680.5" stroke="#000" stroke-width="1.1"/>
<line x1="469.1" y1="900.1" x2="469.1" y2="903.9" stroke="#000" stroke-width="1.1"/>
<line x1="476.4" y1="676" x2="476.4" y2="680.5" stroke="#000" stroke-width="1.1"/>
<line x1="476.4" y1="900.1" x2="476.4" y2="903.9" stroke="#000" stroke-width="1.1"/>
<line x1="483.8" y1="672" x2="483.8" y2="680.5" stroke="#000" stroke-width="1.1"/>
<line x1="483.8" y1="900.1" x2="483.8" y2="906.7" stroke="#000" stroke-width="1.1"/>
<text x="483.8" y="928.6" style="font-family:&quot;Liberation Sans&quot;,sans-serif;font-size:19px;white-space:pre" text-anchor="middle" fill="#000"  stroke="#000" stroke-width="0.3">2.5</text>
<line x1="491.1" y1="676" x2="491.1" y2="680.5" stroke="#000" stroke-width="1.1"/>
<line x1="491.1" y1="900.1" x2="491.1" y2="903.9" stroke="#000" stroke-width="1.1"/>
<line x1="498.4" y1="676" x2="498.4" y2="680.5" stroke="#000" stroke-width="1.1"/>
<line x1="498.4" y1="900.1" x2="498.4" y2="903.9" stroke="#000" stroke-width="1.1"/>
<line x1="505.7" y1="676" x2="505.7" y2="680.5" stroke="#000" stroke-width="1.1"/>
<line x1="505.7" y1="900.1" x2="505.7" y2="903.9" stroke="#000" stroke-width="1.1"/>
<line x1="513.1" y1="676" x2="513.1" y2="680.5" stroke="#000" stroke-width="1.1"/>
<line x1="513.1" y1="900.1" x2="513.1" y2="903.9" stroke="#000" stroke-width="1.1"/>
<line x1="520.4" y1="672" x2="520.4" y2="680.5" stroke="#000" stroke-width="1.1"/>
<line x1="520.4" y1="900.1" x2="520.4" y2="906.7" stroke="#000" stroke-width="1.1"/>
<text x="520.4" y="928.6" style="font-family:&quot;Liberation Sans&quot;,sans-serif;font-size:19px;white-space:pre" text-anchor="middle" fill="#000"  stroke="#000" stroke-width="0.3">3.0</text>
<line x1="292.1" y1="680.5" x2="300.6" y2="680.5" stroke="#000" stroke-width="1.1"/>
<line x1="520.4" y1="680.5" x2="527" y2="680.5" stroke="#000" stroke-width="1.1"/>
<text x="284.4" y="687.1" style="font-family:&quot;Liberation Sans&quot;,sans-serif;font-size:19px;white-space:pre" text-anchor="end" fill="#000"  stroke="#000" stroke-width="0.3">90</text>
<line x1="296.1" y1="692.7" x2="300.6" y2="692.7" stroke="#000" stroke-width="1.1"/>
<line x1="520.4" y1="692.7" x2="523.8" y2="692.7" stroke="#000" stroke-width="1.1"/>
<line x1="296.1" y1="704.9" x2="300.6" y2="704.9" stroke="#000" stroke-width="1.1"/>
<line x1="520.4" y1="704.9" x2="523.8" y2="704.9" stroke="#000" stroke-width="1.1"/>
<line x1="292.1" y1="717.1" x2="300.6" y2="717.1" stroke="#000" stroke-width="1.1"/>
<line x1="520.4" y1="717.1" x2="527" y2="717.1" stroke="#000" stroke-width="1.1"/>
<text x="284.4" y="723.7" style="font-family:&quot;Liberation Sans&quot;,sans-serif;font-size:19px;white-space:pre" text-anchor="end" fill="#000"  stroke="#000" stroke-width="0.3">60</text>
<line x1="296.1" y1="729.3" x2="300.6" y2="729.3" stroke="#000" stroke-width="1.1"/>
<line x1="520.4" y1="729.3" x2="523.8" y2="729.3" stroke="#000" stroke-width="1.1"/>
<line x1="296.1" y1="741.5" x2="300.6" y2="741.5" stroke="#000" stroke-width="1.1"/>
<line x1="520.4" y1="741.5" x2="523.8" y2="741.5" stroke="#000" stroke-width="1.1"/>
<line x1="292.1" y1="753.7" x2="300.6" y2="753.7" stroke="#000" stroke-width="1.1"/>
<line x1="520.4" y1="753.7" x2="527" y2="753.7" stroke="#000" stroke-width="1.1"/>
<text x="284.4" y="760.3" style="font-family:&quot;Liberation Sans&quot;,sans-serif;font-size:19px;white-space:pre" text-anchor="end" fill="#000"  stroke="#000" stroke-width="0.3">30</text>
<line x1="296.1" y1="765.9" x2="300.6" y2="765.9" stroke="#000" stroke-width="1.1"/>
<line x1="520.4" y1="765.9" x2="523.8" y2="765.9" stroke="#000" stroke-width="1.1"/>
<line x1="296.1" y1="778.1" x2="300.6" y2="778.1" stroke="#000" stroke-width="1.1"/>
<line x1="520.4" y1="778.1" x2="523.8" y2="778.1" stroke="#000" stroke-width="1.1"/>
<line x1="292.1" y1="790.3" x2="300.6" y2="790.3" stroke="#000" stroke-width="1.1"/>
<line x1="520.4" y1="790.3" x2="527" y2="790.3" stroke="#000" stroke-width="1.1"/>
<text x="284.4" y="796.9" style="font-family:&quot;Liberation Sans&quot;,sans-serif;font-size:19px;white-space:pre" text-anchor="end" fill="#000"  stroke="#000" stroke-width="0.3">0</text>
<line x1="296.1" y1="802.5" x2="300.6" y2="802.5" stroke="#000" stroke-width="1.1"/>
<line x1="520.4" y1="802.5" x2="523.8" y2="802.5" stroke="#000" stroke-width="1.1"/>
<line x1="296.1" y1="814.7" x2="300.6" y2="814.7" stroke="#000" stroke-width="1.1"/>
<line x1="520.4" y1="814.7" x2="523.8" y2="814.7" stroke="#000" stroke-width="1.1"/>
<line x1="292.1" y1="826.9" x2="300.6" y2="826.9" stroke="#000" stroke-width="1.1"/>
<line x1="520.4" y1="826.9" x2="527" y2="826.9" stroke="#000" stroke-width="1.1"/>
<text x="284.4" y="833.5" style="font-family:&quot;Liberation Sans&quot;,sans-serif;font-size:19px;white-space:pre" text-anchor="end" fill="#000"  stroke="#000" stroke-width="0.3">-30</text>
<line x1="296.1" y1="839.1" x2="300.6" y2="839.1" stroke="#000" stroke-width="1.1"/>
<line x1="520.4" y1="839.1" x2="523.8" y2="839.1" stroke="#000" stroke-width="1.1"/>
<line x1="296.1" y1="851.3" x2="300.6" y2="851.3" stroke="#000" stroke-width="1.1"/>
<line x1="520.4" y1="851.3" x2="523.8" y2="851.3" stroke="#000" stroke-width="1.1"/>
<line x1="292.1" y1="863.5" x2="300.6" y2="863.5" stroke="#000" stroke-width="1.1"/>
<line x1="520.4" y1="863.5" x2="527" y2="863.5" stroke="#000" stroke-width="1.1"/>
<text x="284.4" y="870.1" style="font-family:&quot;Liberation Sans&quot;,sans-serif;font-size:19px;white-space:pre" text-anchor="end" fill="#000"  stroke="#000" stroke-width="0.3">-60</text>
<line x1="296.1" y1="875.7" x2="300.6" y2="875.7" stroke="#000" stroke-width="1.1"/>
<line x1="520.4" y1="875.7" x2="523.8" y2="875.7" stroke="#000" stroke-width="1.1"/>
<line x1="296.1" y1="887.9" x2="300.6" y2="887.9" stroke="#000" stroke-width="1.1"/>
<line x1="520.4" y1="887.9" x2="523.8" y2="887.9" stroke="#000" stroke-width="1.1"/>
<line x1="292.1" y1="900.1" x2="300.6" y2="900.1" stroke="#000" stroke-width="1.1"/>
<line x1="520.4" y1="900.1" x2="527" y2="900.1" stroke="#000" stroke-width="1.1"/>
<text x="284.4" y="906.7" style="font-family:&quot;Liberation Sans&quot;,sans-serif;font-size:19px;white-space:pre" text-anchor="end" fill="#000"  stroke="#000" stroke-width="0.3">-90</text>
<text x="293.6" y="667.3" style="font-family:&quot;Liberation Serif&quot;,serif;font-weight:bold;font-size:16.6px;white-space:pre" text-anchor="start" fill="#000"  stroke="#000" stroke-width="0.35">ϕ= -71.0 +/- 5.0° δt= 1.65 +/-0.20s</text>
<text x="0" y="0" style="font-family:&quot;Liberation Serif&quot;,serif;font-weight:bold;font-size:16.9px;white-space:pre" text-anchor="middle" fill="#000" transform="translate(249.6 789.8) rotate(-90)" stroke="#000" stroke-width="0.35">Fast direction (degree)</text>
<text x="351.5" y="955.1" style="font-family:&quot;Liberation Serif&quot;,serif;font-weight:bold;font-size:16.7px;white-space:pre" text-anchor="start" fill="#000"  stroke="#000" stroke-width="0.35">Splitting time (s)</text>
<text x="208.2" y="980.1" style="font-family:&quot;Liberation Sans&quot;,sans-serif;font-size:19.4px;white-space:pre" text-anchor="start" fill="#000"  stroke="#000" stroke-width="0.3">Ror= 2.09; Rot= 2.44; Rct= 1.12; Rct/Rot= 0.46</text>
</svg></body></html>
